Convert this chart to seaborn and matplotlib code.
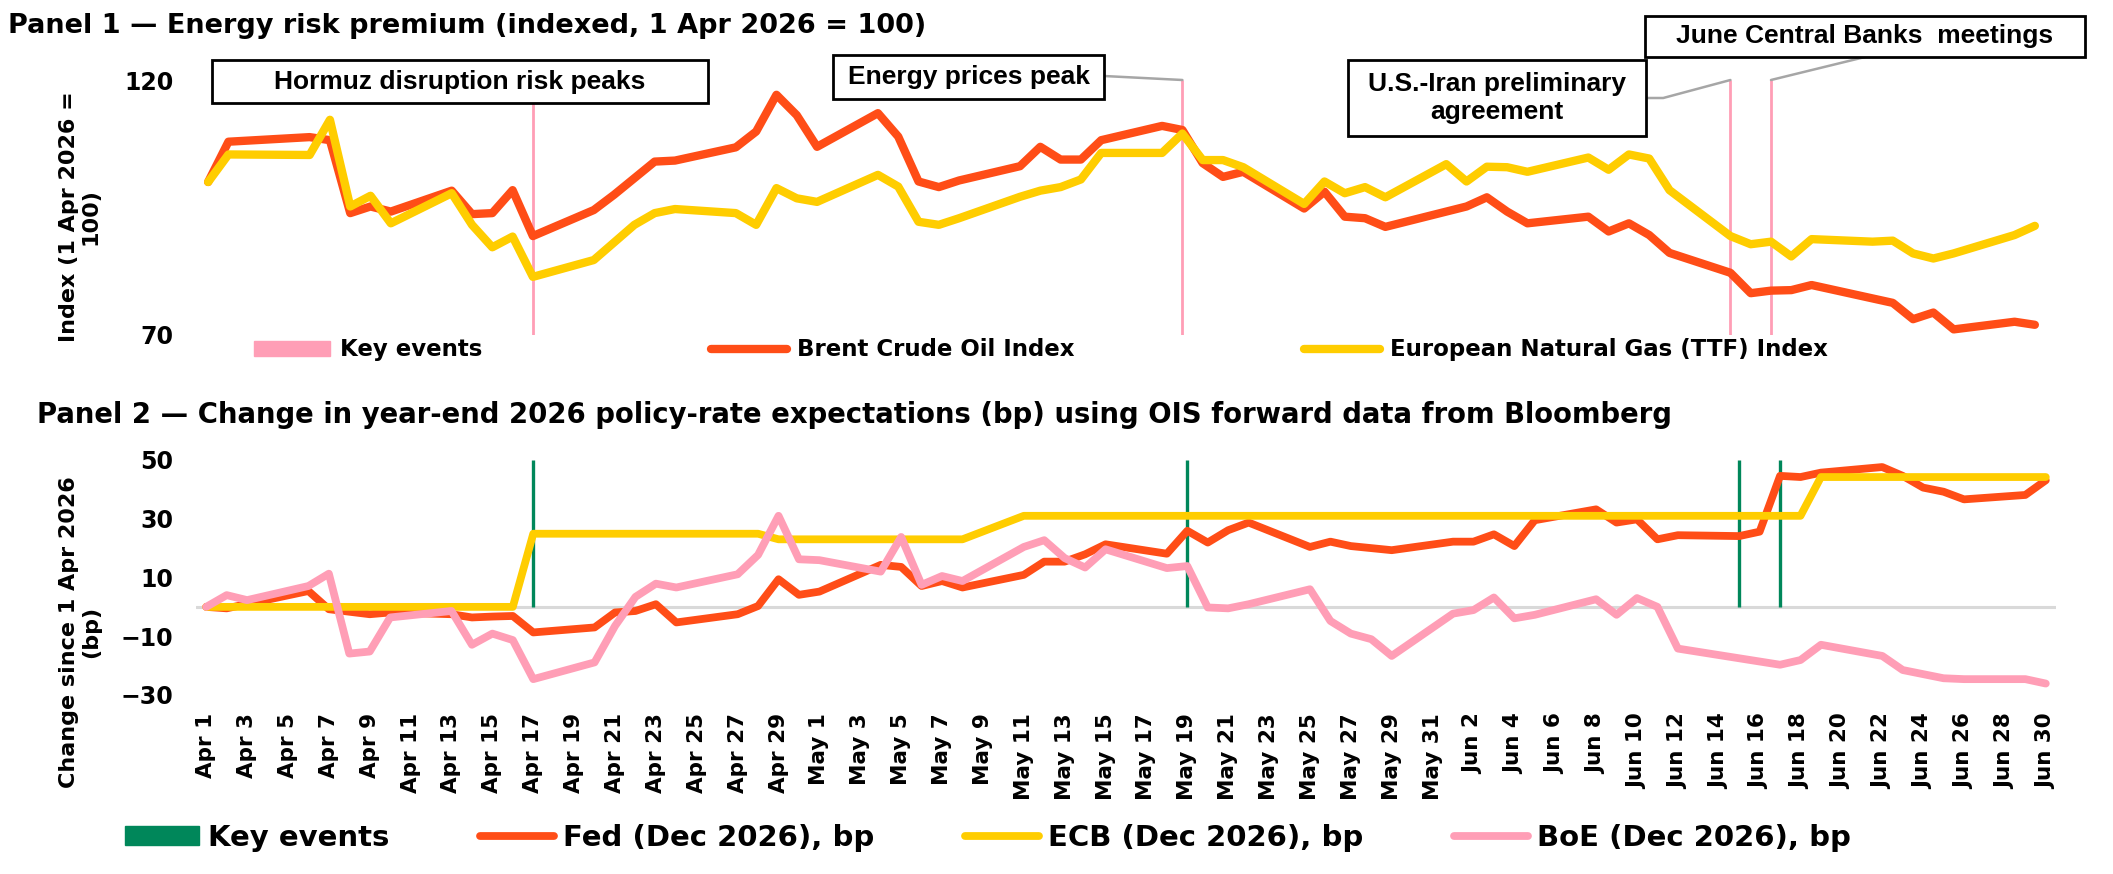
import numpy as np
import pandas as pd
import matplotlib
matplotlib.use("Agg")
import matplotlib.pyplot as plt
import matplotlib.dates as mdates
from matplotlib.patches import Patch, Rectangle
import seaborn as sns

nan = np.nan

# Panel 1 : energy indices, 1 Apr 2026 = 100 (trading days only)
energy_days = ["04-01", "04-02", "04-06", "04-07", "04-08", "04-09", "04-10", "04-13", "04-14", "04-15",
               "04-16", "04-17", "04-20", "04-21", "04-22", "04-23", "04-24", "04-27", "04-28", "04-29",
               "04-30", "05-01", "05-04", "05-05", "05-06", "05-07", "05-08", "05-11", "05-12", "05-13",
               "05-14", "05-15", "05-18", "05-19", "05-20", "05-21", "05-22", "05-25", "05-26", "05-27",
               "05-28", "05-29", "06-01", "06-02", "06-03", "06-04", "06-05", "06-08", "06-09", "06-10",
               "06-11", "06-12", "06-15", "06-16", "06-17", "06-18", "06-19", "06-22", "06-23", "06-24",
               "06-25", "06-26", "06-29", "06-30"]
brent = [100, 107.9, 108.8, 108.2, 93.9, 95.2, 94.2, 98.3, 93.7, 93.9,
         98.4, 89.4, 94.5, 97.5, nan, 104.0, 104.2, 106.8, 109.9, 117.1,
         113.1, 106.9, 113.5, 108.9, 100.1, 99.0, 100.3, 103.1, 106.9, 104.4,
         104.4, 108.2, 111.0, 110.2, 103.7, 101.0, 102.0, 94.8, 98.1, 93.2,
         92.9, 91.2, nan, 95.2, 97.0, 94.2, 91.9, 93.2, 90.3, 91.9,
         89.6, 86.1, 82.2, 78.2, 78.7, 78.8, 79.8, nan, 76.3, 73.1,
         74.4, 71.1, 72.6, 72.0]
ttf = [100, 105.4, 105.3, 112.2, 95.2, 97.3, 91.9, 97.8, 91.6, 87.2,
       89.3, 81.4, 84.7, nan, 91.6, 93.9, 94.7, 93.9, 91.6, 98.8,
       96.8, 96.1, 101.4, 99.1, 92.2, 91.6, 92.9, 97.1, 98.3, 99.0,
       100.5, 105.7, 105.7, 109.5, 104.3, 104.3, 102.9, 95.7, 100.1, 97.8,
       99.0, 97.0, 103.5, 100.1, 103.0, 102.9, 102.0, 104.8, 102.4, 105.4,
       104.6, 98.4, 89.4, 87.8, 88.3, 85.4, 88.8, 88.3, 88.5, 86.0,
       85.0, 86.0, 89.6, 91.4]

# Panel 2 : change in year-end 2026 policy-rate expectations (bp)
rate_days = ["04-01", "04-02", "04-03", "04-06", "04-07", "04-08", "04-09", "04-10", "04-13", "04-14",
             "04-15", "04-16", "04-17", "04-20", "04-21", "04-22", "04-23", "04-24", "04-27", "04-28",
             "04-29", "04-30", "05-01", "05-04", "05-05", "05-06", "05-07", "05-08", "05-11", "05-12",
             "05-13", "05-14", "05-15", "05-18", "05-19", "05-20", "05-21", "05-22", "05-25", "05-26",
             "05-27", "05-28", "05-29", "06-01", "06-02", "06-03", "06-04", "06-05", "06-08", "06-09",
             "06-10", "06-11", "06-12", "06-15", "06-16", "06-17", "06-18", "06-19", "06-22", "06-23",
             "06-24", "06-25", "06-26", "06-29", "06-30"]
fed = [0, -0.5, nan, 5.4, -0.8, nan, -2.5, -1.9, -2.5, -3.6,
       -3.3, -3.1, -8.7, -7.0, -1.9, -1.4, 0.9, -5.3, -2.5, 0.3,
       9.4, 4.1, 5.2, 14.3, 13.6, 7.1, 8.8, 6.6, 10.9, 15.4,
       15.4, 17.9, 21.3, 18.1, 25.9, 21.9, 26.1, 28.7, 20.4, 22.2,
       20.7, nan, 19.3, 22.2, 22.2, 24.7, 20.7, 29.5, 33.2, 28.7,
       29.8, 23.0, 24.4, 24.1, 25.6, 44.6, 44.2, 45.7, 47.6, 44.6,
       40.6, 39.2, 36.6, 38.1, 43.1]
ecb = [0, 0, 0, 0, 0, 0, 0, 0, 0, 0,
       0, 0, 24.9, 24.9, 24.9, 24.9, 24.9, 24.9, 24.9, 24.9,
       23.0, 23.0, 23.0, 23.0, 23.0, 23.0, 23.0, 23.0, 31.0, 31.0,
       31.0, 31.0, 31.0, 31.0, 31.0, 31.0, 31.0, 31.0, 31.0, 31.0,
       31.0, 31.0, 31.0, 31.0, 31.0, 31.0, 31.0, 31.0, 31.0, 31.0,
       31.0, 31.0, 31.0, 31.0, 31.0, 31.0, 31.0, 44.2, 44.2, 44.2,
       44.2, 44.2, 44.2, 44.2, 44.2]
boe = [0, 4.0, 2.3, 7.1, 11.3, -15.9, -15.2, -3.6, -1.4, -12.9,
       -9.1, -11.3, -24.6, -18.9, -6.5, 3.4, 7.9, 6.6, 11.1, 17.7,
       31.0, 16.2, 15.9, 12.0, 23.8, 7.5, 10.5, 8.8, 20.4, 22.7,
       16.6, 13.4, 19.6, 13.2, 13.9, -0.2, -0.5, 0.9, 6.0, -4.8,
       -9.1, -11.0, -16.7, -2.3, -1.1, 3.2, -3.9, -2.7, 2.6, -2.7,
       3.0, 0.0, -14.2, nan, nan, -19.7, -18.1, -12.9, -16.7, -21.5,
       -22.9, -24.3, -24.6, -24.6, -26.1]

event_days = ["04-17", "05-19", "06-15", "06-17"]

ORANGE = "#FF4D17"
YELLOW = "#FFCD00"
PINK = "#FF9EB6"
GREEN = "#00875A"
GREY = "#A6A6A6"

W, H = 2113, 874


def to_dates(days):
    return pd.to_datetime(["2026-" + d for d in days])


e_dt = to_dates(energy_days)
r_dt = to_dates(rate_days)
ev_dt = to_dates(event_days)

sns.set_theme(style="white")
plt.rcParams["font.family"] = ["DejaVu Sans"]
plt.rcParams["font.weight"] = "bold"
plt.rcParams["axes.labelweight"] = "bold"
for k in ["text.color", "axes.labelcolor", "xtick.color", "ytick.color"]:
    plt.rcParams[k] = "black"

fig = plt.figure(figsize=(W / 100, H / 100), dpi=100)

x_lo = pd.Timestamp("2026-03-31 12:00")
x_hi = pd.Timestamp("2026-06-30 12:00")
line_kw = dict(estimator=None, solid_capstyle="round", solid_joinstyle="round", zorder=3)

# ---------- panel 1
ax1 = fig.add_axes([198 / W, 1 - 335 / H, 1847 / W, 255 / H])
ax1.vlines(ev_dt, 70, 120, color=PINK, lw=2, zorder=1)
sns.lineplot(x=e_dt, y=brent, ax=ax1, color=ORANGE, lw=6, label="Brent Crude Oil Index", **line_kw)
sns.lineplot(x=e_dt, y=ttf, ax=ax1, color=YELLOW, lw=6, label="European Natural Gas (TTF) Index", **line_kw)
ax1.set_xlim(x_lo, x_hi)
ax1.set_ylim(70, 120)
ax1.set_yticks([70, 120])
ax1.set_xticks([])
ax1.set_xlabel("")
ax1.tick_params(axis="y", length=0, pad=17.5, labelsize=17)
sns.despine(ax=ax1, left=True, bottom=True)
ax1.set_ylabel("Index (1 Apr 2026 =\n100)", fontsize=16, va="center", linespacing=1.1)
ax1.yaxis.set_label_coords((80 - 198) / 1847, (335 - 217) / 255)
ax1.set_facecolor("none")

l1 = ax1.get_lines()
ax1.legend(handles=[Patch(color=PINK), l1[0], l1[1]],
           labels=["Key events", "Brent Crude Oil Index", "European Natural Gas (TTF) Index"],
           loc="center left", bbox_to_anchor=(254 / W, 1 - 350 / H), bbox_transform=fig.transFigure,
           ncol=3, frameon=False, fontsize=16.5, handlelength=3.3, handleheight=0.62,
           handletextpad=0.45, columnspacing=10, borderpad=0, borderaxespad=0)

# ---------- panel 2
ax2 = fig.add_axes([196 / W, 1 - 695 / H, 1860 / W, 235 / H])
ax2.axhline(0, color="#D9D9D9", lw=2.2, zorder=0)
ax2.vlines(ev_dt, 0, 50, color=GREEN, lw=2.4, zorder=1)
sns.lineplot(x=r_dt, y=fed, ax=ax2, color=ORANGE, lw=5.6, label="Fed (Dec 2026), bp", **line_kw)
sns.lineplot(x=r_dt, y=ecb, ax=ax2, color=YELLOW, lw=5.6, label="ECB (Dec 2026), bp", **line_kw)
sns.lineplot(x=r_dt, y=boe, ax=ax2, color=PINK, lw=5.6, label="BoE (Dec 2026), bp", **line_kw)
ax2.set_xlim(x_lo, x_hi)
ax2.set_ylim(-30, 50)
ax2.set_yticks([-30, -10, 10, 30, 50])
ax2.set_xticks(pd.date_range("2026-04-01", "2026-06-30", freq="2D"))
ax2.xaxis.set_major_formatter(mdates.DateFormatter("%b %-d"))
ax2.set_xlabel("")
ax2.tick_params(axis="x", length=0, pad=13, labelsize=15.5, labelrotation=90)
ax2.tick_params(axis="y", length=0, pad=16.5, labelsize=17)
sns.despine(ax=ax2, left=True, bottom=True)
ax2.set_ylabel("Change since 1 Apr 2026\n(bp)", fontsize=16, va="center", linespacing=1.1)
ax2.yaxis.set_label_coords((80 - 196) / 1860, (695 - 632) / 235)
ax2.set_facecolor("none")

l2 = ax2.get_lines()[1:]
ax2.legend(handles=[Patch(color=GREEN), l2[0], l2[1], l2[2]],
           labels=["Key events", "Fed (Dec 2026), bp", "ECB (Dec 2026), bp", "BoE (Dec 2026), bp"],
           loc="center left", bbox_to_anchor=(125 / W, 1 - 838 / H), bbox_transform=fig.transFigure,
           ncol=4, frameon=False, fontsize=21, handlelength=2.55, handleheight=0.62,
           handletextpad=0.3, columnspacing=3.1, borderpad=0, borderaxespad=0)

# ---------- titles
fig.text(8 / W, 1 - 33 / H, "Panel 1 \u2014 Energy risk premium (indexed, 1 Apr 2026 = 100)",
         fontsize=19.5, weight="bold", va="baseline")
fig.text(37 / W, 1 - 423 / H,
         "Panel 2 \u2014 Change in year-end 2026 policy-rate expectations (bp) using OIS forward data from Bloomberg",
         fontsize=19.8, weight="bold", va="baseline")


# ---------- annotation boxes (pixel boxes, top-left origin)
def note(x0, y0, x1, y1, text):
    fig.add_artist(Rectangle((x0 / W, 1 - y1 / H), (x1 - x0) / W, (y1 - y0) / H,
                             transform=fig.transFigure, fc="white", ec="black", lw=2, zorder=5))
    fig.text((x0 + x1) / 2 / W, 1 - (y0 + y1) / 2 / H, text, ha="center", va="center",
             fontsize=19, family=["Liberation Sans", "DejaVu Sans"], weight="bold",
             linespacing=1.2, zorder=6)


def connect(day, px, py, style="arc3"):
    ax1.annotate("", xy=(day, 120), xycoords="data", xytext=(px, H - py), textcoords="figure pixels",
                 arrowprops=dict(arrowstyle="-", color=GREY, lw=1.8, shrinkA=0, shrinkB=0,
                                 connectionstyle=style),
                 annotation_clip=False)


connect(ev_dt[1], 1104, 76)
connect(ev_dt[2], 1646, 98, "angle,angleA=0,angleB=15,rad=0")
connect(ev_dt[3], 1865, 57)

note(212, 60, 708, 103, "Hormuz disruption risk peaks")
note(833, 55, 1104, 99, "Energy prices peak")
note(1348, 60, 1646, 136, "U.S.-Iran preliminary\nagreement")
note(1645, 16, 2085, 57, "June Central Banks  meetings")

fig.savefig("out.png", dpi=100, facecolor="white")
